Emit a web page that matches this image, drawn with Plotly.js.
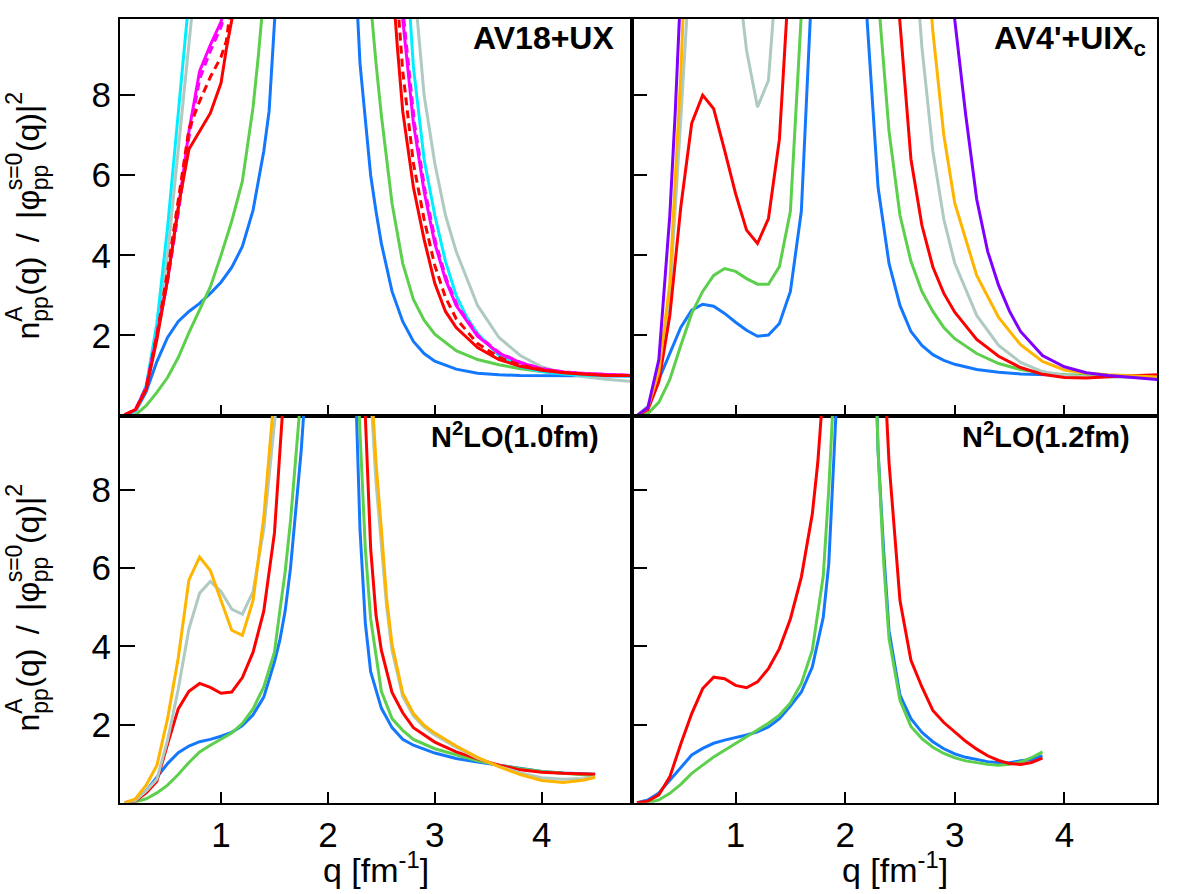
<!DOCTYPE html>
<html><head><meta charset="utf-8">
<script src="https://cdn.plot.ly/plotly-3.0.1.min.js"></script>
<style>html,body{margin:0;padding:0;background:#fff;}</style>
</head><body><div id="chart" style="width:1182px;height:894px;"></div>
<script>
// ---------- colours ----------
const C_BLUE = '#1478ff', C_GREEN = '#5ccf4c', C_RED = '#ff0000', C_MAG = '#ff00ff',
      C_CYAN = '#00eeff', C_GRAY = '#afcac2', C_ORANGE = '#ffb400', C_PURPLE = '#8000ff';

// ---------- panel labels / ticks ----------
const panelLabels = ["<b>AV18+UX</b>", "<b>AV4'+UIX<sub>c</sub></b>", "<b>N<sup>2</sup>LO(1.0fm)</b>", "<b>N<sup>2</sup>LO(1.2fm)</b>"];
const xTicks = [1, 2, 3, 4];
const yTicks = [2, 4, 6, 8];

// ---------- AV18+UX ----------
const av18_blue_qL = [0.1,0.2,0.3,0.4,0.5,0.6,0.7,0.8,0.9,1.0,1.1,1.2,1.3,1.4,1.45,1.5,1.55];
const av18_blue_nL = [0.02,0.1,0.6,1.35,1.95,2.35,2.6,2.8,3.05,3.33,3.7,4.22,5.13,6.6,7.6,9.87,12];
const av18_blue_qR = [2.25,2.3,2.35,2.4,2.45,2.5,2.6,2.7,2.8,2.9,3.0,3.2,3.4,3.6,3.8,4.0,4.2,4.4,4.6,4.85];
const av18_blue_nR = [11.5,8.8,7.4,6.0,5.1,4.3,3.1,2.35,1.85,1.55,1.36,1.16,1.06,1.02,1.0,1.0,1.0,1.0,0.99,0.99];

const av18_green_qL = [0.1,0.2,0.3,0.4,0.5,0.6,0.7,0.8,0.9,1.0,1.1,1.2,1.3,1.35,1.4];
const av18_green_nL = [0.0,0.02,0.25,0.58,0.95,1.45,2.07,2.65,3.21,4.0,4.85,5.85,7.7,9.0,10.5];
const av18_green_qR = [2.38,2.4,2.45,2.5,2.6,2.7,2.8,2.9,3.0,3.2,3.4,3.6,3.8,4.0,4.2,4.4,4.6,4.85];
const av18_green_nR = [11,10.3,8.8,7.5,5.3,3.8,2.9,2.38,2.03,1.62,1.4,1.27,1.17,1.1,1.05,1.02,1.0,1.0];

const av18_red_qL = [0.1,0.2,0.3,0.4,0.5,0.6,0.7,0.8,0.9,1.0,1.05,1.1,1.15];
const av18_red_nL = [0.02,0.15,0.65,1.9,3.4,5.2,6.65,7.1,7.55,8.3,9.15,9.87,11];
const av18_red_qR = [2.58,2.6,2.65,2.7,2.8,2.9,3.0,3.1,3.2,3.4,3.6,3.8,4.0,4.2,4.4,4.6,4.85];
const av18_red_nR = [12,11,9.2,7.6,5.7,4.4,3.3,2.6,2.2,1.7,1.4,1.23,1.13,1.07,1.03,1.0,1.0];

const av18_redD_qL = [0.1,0.2,0.3,0.4,0.5,0.6,0.7,0.8,0.9,1.0,1.05,1.1];
const av18_redD_nL = [0.02,0.15,0.68,2.0,3.6,5.4,7.15,7.85,8.45,8.95,9.35,10.4];
const av18_redD_qR = [2.62,2.65,2.7,2.8,2.9,3.0,3.1,3.2,3.4,3.6,3.8,4.0,4.2,4.4,4.6,4.85];
const av18_redD_nR = [11.5,10.4,8.6,6.3,4.9,3.75,2.95,2.42,1.8,1.46,1.26,1.15,1.08,1.04,1.01,1.0];

const av18_mag_qL = [0.1,0.2,0.3,0.4,0.5,0.6,0.7,0.8,0.9,1.0,1.1];
const av18_mag_nL = [0.02,0.15,0.7,2.0,3.4,5.15,7.1,8.6,9.25,9.83,10.8];
const av18_mag_qR = [2.66,2.7,2.8,2.9,3.0,3.1,3.2,3.4,3.6,3.8,4.0,4.2,4.4,4.6,4.85];
const av18_mag_nR = [11.2,9.9,7.3,5.6,4.3,3.4,2.75,1.98,1.56,1.32,1.17,1.09,1.05,1.02,1.0];

const av18_magD_qL = [0.1,0.2,0.3,0.4,0.5,0.6,0.7,0.8,0.9,1.0,1.1];
const av18_magD_nL = [0.02,0.15,0.7,2.0,3.35,5.05,6.95,8.4,9.1,9.7,10.6];
const av18_magD_qR = [2.67,2.71,2.81,2.91,3.01,3.11,3.21,3.41,3.61,3.81,4.01,4.21,4.41,4.61,4.85];
const av18_magD_nR = [11.2,9.9,7.3,5.6,4.3,3.4,2.75,1.98,1.56,1.32,1.17,1.09,1.05,1.02,1.0];

const av18_cyan_qL = [0.1,0.2,0.3,0.4,0.5,0.6,0.7];
const av18_cyan_nL = [0.02,0.12,0.75,2.3,4.7,7.5,10.4];
const av18_cyan_qR = [2.72,2.75,2.8,2.9,3.0,3.1,3.2,3.3,3.4,3.6,3.8,4.0,4.2,4.4,4.6,4.85];
const av18_cyan_nR = [12,10.8,8.7,6.4,5.0,3.85,3.0,2.45,2.05,1.5,1.22,1.1,1.04,1.01,1.0,0.99];

const av18_gray_qL = [0.1,0.2,0.3,0.4,0.5,0.6,0.7,0.75];
const av18_gray_nL = [0.02,0.1,0.7,2.1,4.0,6.6,9.2,10.6];
const av18_gray_qR = [2.78,2.8,2.9,3.0,3.1,3.2,3.4,3.6,3.8,4.0,4.2,4.4,4.6,4.85];
const av18_gray_nR = [12,11,8.0,6.3,5.0,4.1,2.75,1.95,1.5,1.22,1.06,0.97,0.91,0.85];

// ---------- AV4'+UIXc ----------
const av4_blue_qL = [0.1,0.2,0.3,0.4,0.5,0.6,0.7,0.8,0.9,1.0,1.1,1.2,1.3,1.4,1.5,1.6,1.65,1.7];
const av4_blue_nL = [0.0,0.22,0.9,1.55,2.2,2.63,2.78,2.73,2.55,2.33,2.13,1.98,2.01,2.3,3.1,5.1,8.0,11];
const av4_blue_qR = [2.15,2.2,2.3,2.4,2.5,2.6,2.7,2.8,2.9,3.0,3.2,3.4,3.6,3.8,4.0,4.2,4.4,4.6,4.85];
const av4_blue_nR = [12.5,9.87,5.7,3.8,2.75,2.1,1.75,1.52,1.38,1.28,1.15,1.08,1.04,1.02,1.01,1.0,1.0,0.99,0.98];

const av4_green_qL = [0.1,0.2,0.3,0.4,0.5,0.6,0.7,0.8,0.9,1.0,1.1,1.2,1.3,1.4,1.5,1.6,1.65];
const av4_green_nL = [0.0,0.05,0.33,0.9,1.75,2.55,3.1,3.5,3.67,3.6,3.42,3.28,3.28,3.72,5.1,9.87,12.5];
const av4_green_qR = [2.28,2.3,2.4,2.5,2.6,2.7,2.8,2.9,3.0,3.2,3.4,3.6,3.8,4.0,4.2,4.4,4.6,4.85];
const av4_green_nR = [11.5,10.5,7.1,5.0,3.85,3.1,2.6,2.2,1.92,1.55,1.3,1.15,1.07,1.02,1.0,0.99,0.98,0.97];

const av4_red_qL = [0.1,0.2,0.3,0.4,0.5,0.6,0.7,0.8,0.9,1.0,1.1,1.2,1.3,1.4,1.45,1.5];
const av4_red_nL = [0.0,0.15,0.85,2.5,5.2,7.3,8.0,7.66,6.62,5.54,4.63,4.3,4.92,6.9,9.2,11.5];
const av4_red_qR = [2.45,2.5,2.6,2.7,2.8,2.9,3.0,3.2,3.4,3.6,3.8,4.0,4.2,4.4,4.6,4.85];
const av4_red_nR = [11.5,9.87,6.4,4.75,3.71,3.05,2.58,1.9,1.48,1.2,1.03,0.95,0.94,0.97,1.0,1.02];

const av4_gray_qL = [0.1,0.2,0.3,0.4,0.5,0.6,0.7,0.8,0.9,1.0,1.1,1.2,1.3,1.4];
const av4_gray_nL = [0.0,0.2,1.0,3.0,7.4,12,14,14.5,13.5,11.5,9.12,7.7,8.37,12];
const av4_gray_qR = [2.65,2.7,2.8,2.9,3.0,3.2,3.4,3.6,3.8,4.0,4.2,4.4,4.6,4.85];
const av4_gray_nR = [11,9.2,6.6,4.9,3.8,2.5,1.75,1.33,1.1,1.0,0.97,0.96,0.96,0.95];

const av4_orange_qL = [0.1,0.2,0.3,0.4,0.5,0.55];
const av4_orange_nL = [0.0,0.2,1.1,3.3,8.5,12];
const av4_orange_qR = [2.75,2.8,2.9,3.0,3.2,3.4,3.6,3.8,4.0,4.2,4.4,4.6,4.85];
const av4_orange_nR = [11.2,9.6,7.0,5.3,3.5,2.45,1.77,1.35,1.14,1.06,1.02,0.99,0.96];

const av4_purple_qL = [0.1,0.2,0.3,0.4,0.45,0.5];
const av4_purple_nL = [0.0,0.2,1.4,5.0,7.6,10.7];
const av4_purple_qR = [2.95,3.0,3.1,3.2,3.3,3.4,3.5,3.6,3.8,4.0,4.2,4.4,4.6,4.85];
const av4_purple_nR = [12,9.87,7.5,5.4,4.1,3.25,2.6,2.1,1.5,1.22,1.07,1.0,0.96,0.9];

// ---------- N2LO (1.0 fm) ----------
const n10_blue_qL = [0.1,0.2,0.3,0.4,0.5,0.6,0.7,0.8,0.9,1.0,1.1,1.2,1.3,1.4,1.5,1.55,1.6,1.65,1.7,1.75,1.8];
const n10_blue_nL = [0.0,0.06,0.3,0.65,1.0,1.28,1.45,1.56,1.62,1.7,1.8,1.97,2.25,2.7,3.6,4.15,4.9,6.0,7.4,9.0,11];
const n10_blue_qR = [2.25,2.3,2.35,2.4,2.5,2.6,2.7,2.8,3.0,3.2,3.4,3.6,3.8,4.0,4.2,4.4,4.5];
const n10_blue_nR = [11.5,7.0,4.6,3.35,2.42,1.92,1.62,1.47,1.27,1.13,1.04,0.96,0.87,0.8,0.76,0.74,0.73];

const n10_green_qL = [0.1,0.2,0.3,0.4,0.5,0.6,0.7,0.8,0.9,1.0,1.1,1.2,1.3,1.4,1.5,1.55,1.6,1.65,1.7,1.75];
const n10_green_nL = [0.0,0.02,0.1,0.25,0.45,0.72,1.03,1.3,1.47,1.62,1.78,2.03,2.4,2.96,3.85,4.9,5.9,7.2,8.7,10.5];
const n10_green_qR = [2.28,2.3,2.35,2.4,2.5,2.6,2.7,2.8,3.0,3.2,3.4,3.6,3.8,4.0,4.2,4.4,4.5];
const n10_green_nR = [11,9.5,6.5,4.7,2.85,2.15,1.85,1.62,1.38,1.22,1.07,0.96,0.87,0.8,0.75,0.71,0.69];

const n10_red_qL = [0.1,0.2,0.3,0.4,0.5,0.6,0.7,0.8,0.9,1.0,1.1,1.2,1.3,1.4,1.5,1.55,1.6];
const n10_red_nL = [0.0,0.05,0.25,0.55,1.5,2.4,2.85,3.05,2.95,2.8,2.83,3.2,3.85,4.9,6.9,8.8,11];
const n10_red_qR = [2.33,2.35,2.4,2.45,2.5,2.6,2.7,2.8,3.0,3.2,3.4,3.6,3.8,4.0,4.2,4.4,4.5];
const n10_red_nR = [11,9.9,6.5,4.8,3.9,2.82,2.3,1.92,1.55,1.3,1.12,0.96,0.84,0.78,0.75,0.74,0.73];

const n10_gray_qL = [0.1,0.2,0.3,0.4,0.5,0.6,0.7,0.8,0.9,1.0,1.1,1.2,1.3,1.4,1.5,1.55];
const n10_gray_nL = [0.0,0.06,0.3,0.6,1.6,2.9,4.45,5.36,5.66,5.4,4.95,4.82,5.4,7.0,9.7,11];
const n10_gray_qR = [2.4,2.45,2.5,2.55,2.6,2.7,2.8,2.9,3.0,3.2,3.4,3.6,3.8,4.0,4.2,4.4,4.5];
const n10_gray_nR = [10.5,8.2,6.6,5.0,3.9,2.72,2.22,1.93,1.73,1.42,1.14,0.93,0.76,0.64,0.6,0.62,0.66];

const n10_orange_qL = [0.1,0.2,0.3,0.4,0.5,0.6,0.7,0.8,0.9,1.0,1.1,1.2,1.3,1.4,1.5];
const n10_orange_nL = [0.0,0.1,0.45,0.95,2.15,3.7,5.7,6.28,5.94,5.17,4.41,4.28,5.17,7.3,10.5];
const n10_orange_qR = [2.4,2.45,2.5,2.55,2.6,2.7,2.8,2.9,3.0,3.2,3.4,3.6,3.8,4.0,4.2,4.4,4.5];
const n10_orange_nR = [11,8.7,7.0,5.2,4.05,2.8,2.28,1.98,1.78,1.45,1.16,0.92,0.72,0.57,0.52,0.58,0.65];

// ---------- N2LO (1.2 fm) ----------
const n12_blue_qL = [0.1,0.2,0.3,0.4,0.5,0.6,0.7,0.8,0.9,1.0,1.1,1.2,1.3,1.4,1.5,1.6,1.7,1.8,1.85,1.9,1.95];
const n12_blue_nL = [0.0,0.07,0.25,0.58,0.9,1.22,1.39,1.52,1.6,1.66,1.73,1.81,1.94,2.15,2.47,2.83,3.47,4.74,6.1,9.0,12];
const n12_blue_qR = [2.28,2.3,2.35,2.4,2.5,2.6,2.7,2.8,2.9,3.0,3.1,3.2,3.3,3.4,3.5,3.6,3.7,3.8];
const n12_blue_nR = [11,9.0,6.5,4.4,2.75,2.15,1.8,1.56,1.38,1.25,1.16,1.1,1.05,1.02,1.02,1.07,1.1,1.2];

const n12_green_qL = [0.1,0.2,0.3,0.4,0.5,0.6,0.7,0.8,0.9,1.0,1.1,1.2,1.3,1.4,1.5,1.6,1.7,1.8,1.85,1.9];
const n12_green_nL = [0.0,0.0,0.07,0.24,0.47,0.75,0.96,1.17,1.34,1.51,1.68,1.85,2.03,2.24,2.55,3.05,3.9,5.8,8.0,10.8];
const n12_green_qR = [2.28,2.3,2.35,2.4,2.5,2.6,2.7,2.8,2.9,3.0,3.1,3.2,3.3,3.4,3.5,3.6,3.7,3.8];
const n12_green_nR = [11,9.0,6.2,4.2,2.62,1.95,1.64,1.42,1.26,1.15,1.07,1.02,0.98,0.96,0.98,1.04,1.15,1.3];

const n12_red_qL = [0.1,0.2,0.3,0.4,0.5,0.6,0.7,0.8,0.9,1.0,1.1,1.2,1.3,1.4,1.5,1.6,1.7,1.75,1.8];
const n12_red_nL = [0.0,0.04,0.2,0.66,1.5,2.28,2.92,3.21,3.17,3.0,2.94,3.09,3.43,3.94,4.7,5.77,7.38,8.7,10.6];
const n12_red_qR = [2.35,2.38,2.4,2.5,2.6,2.7,2.8,2.9,3.0,3.1,3.2,3.3,3.4,3.5,3.6,3.7,3.8];
const n12_red_nR = [11.5,9.85,8.7,5.17,3.64,2.96,2.36,2.05,1.8,1.57,1.37,1.2,1.08,1.0,0.98,1.03,1.14];

// ---------- axis titles (text pieces) ----------
const yTitleRuns = [
  {main: 'n'}, {sup: 'A', sub: 'pp'}, {main: '(q)'}, {gap: 0.45}, {main: '/'}, {gap: 0.45},
  {main: '|φ'}, {sup: 's=0', sub: 'pp'}, {main: '(q)|'}, {sup: '2'}
];
const xTitle = 'q [fm<sup>-1</sup>]';

// ---------- build ----------
function curve(qL, nL, qR, nR, color, dash, xa, ya) {
  return {
    x: qL.concat([null], qR), y: nL.concat([null], nR),
    xaxis: xa, yaxis: ya, type: 'scatter', mode: 'lines', connectgaps: false,
    line: {color: color, width: 3, dash: dash || 'solid'}, hoverinfo: 'skip', showlegend: false
  };
}

const traces = [
  curve(av18_blue_qL, av18_blue_nL, av18_blue_qR, av18_blue_nR, C_BLUE, null, 'x', 'y'),
  curve(av18_green_qL, av18_green_nL, av18_green_qR, av18_green_nR, C_GREEN, null, 'x', 'y'),
  curve(av18_gray_qL, av18_gray_nL, av18_gray_qR, av18_gray_nR, C_GRAY, null, 'x', 'y'),
  curve(av18_cyan_qL, av18_cyan_nL, av18_cyan_qR, av18_cyan_nR, C_CYAN, null, 'x', 'y'),
  curve(av18_mag_qL, av18_mag_nL, av18_mag_qR, av18_mag_nR, C_MAG, null, 'x', 'y'),
  curve(av18_magD_qL, av18_magD_nL, av18_magD_qR, av18_magD_nR, C_MAG, '8px,5px', 'x', 'y'),
  curve(av18_red_qL, av18_red_nL, av18_red_qR, av18_red_nR, C_RED, null, 'x', 'y'),
  curve(av18_redD_qL, av18_redD_nL, av18_redD_qR, av18_redD_nR, C_RED, '8px,5px', 'x', 'y'),

  curve(av4_blue_qL, av4_blue_nL, av4_blue_qR, av4_blue_nR, C_BLUE, null, 'x2', 'y2'),
  curve(av4_green_qL, av4_green_nL, av4_green_qR, av4_green_nR, C_GREEN, null, 'x2', 'y2'),
  curve(av4_gray_qL, av4_gray_nL, av4_gray_qR, av4_gray_nR, C_GRAY, null, 'x2', 'y2'),
  curve(av4_red_qL, av4_red_nL, av4_red_qR, av4_red_nR, C_RED, null, 'x2', 'y2'),
  curve(av4_orange_qL, av4_orange_nL, av4_orange_qR, av4_orange_nR, C_ORANGE, null, 'x2', 'y2'),
  curve(av4_purple_qL, av4_purple_nL, av4_purple_qR, av4_purple_nR, C_PURPLE, null, 'x2', 'y2'),

  curve(n10_blue_qL, n10_blue_nL, n10_blue_qR, n10_blue_nR, C_BLUE, null, 'x3', 'y3'),
  curve(n10_green_qL, n10_green_nL, n10_green_qR, n10_green_nR, C_GREEN, null, 'x3', 'y3'),
  curve(n10_red_qL, n10_red_nL, n10_red_qR, n10_red_nR, C_RED, null, 'x3', 'y3'),
  curve(n10_gray_qL, n10_gray_nL, n10_gray_qR, n10_gray_nR, C_GRAY, null, 'x3', 'y3'),
  curve(n10_orange_qL, n10_orange_nL, n10_orange_qR, n10_orange_nR, C_ORANGE, null, 'x3', 'y3'),

  curve(n12_blue_qL, n12_blue_nL, n12_blue_qR, n12_blue_nR, C_BLUE, null, 'x4', 'y4'),
  curve(n12_green_qL, n12_green_nL, n12_green_qR, n12_green_nR, C_GREEN, null, 'x4', 'y4'),
  curve(n12_red_qL, n12_red_nL, n12_red_qR, n12_red_nR, C_RED, null, 'x4', 'y4')
];

const FONT = '"Liberation Sans", Arial, Helvetica, sans-serif';
const W = 1182, H = 894;
const XL = [120/W, 632/W], XR = [632/W, 1157/W];
const YT = [1-415.6/H, 1-19/H], YB = [1-802.7/H, 1-415.6/H];
const XRANGE = [0.055, 4.845], YRANGE = [0, 9.9];
const TICKSIZE = 35;

function xax(dom, anchor, labels) {
  return {domain: dom, anchor: anchor, range: XRANGE, tickmode: 'array', tickvals: xTicks,
    ticktext: xTicks.map(String), showticklabels: labels, ticks: 'inside', ticklen: 11, tickwidth: 2,
    tickcolor: '#000', showline: true, linecolor: '#000', linewidth: 2, mirror: true,
    showgrid: false, zeroline: false, fixedrange: true,
    tickfont: {family: FONT, size: TICKSIZE, color: '#000'}};
}
function yax(dom, anchor, labels) {
  return {domain: dom, anchor: anchor, range: YRANGE, tickmode: 'array', tickvals: yTicks,
    ticktext: yTicks.map(String), showticklabels: labels, ticks: 'inside', ticklen: 15, tickwidth: 2,
    tickcolor: '#000', showline: true, linecolor: '#000', linewidth: 2, mirror: true,
    showgrid: false, zeroline: false, fixedrange: true, ticklabelstandoff: 0,
    tickfont: {family: FONT, size: TICKSIZE, color: '#000'}};
}

// rotated y title assembled from pieces so that super/subscripts stack
const ctx = document.createElement('canvas').getContext('2d');
function textW(t, size) { ctx.font = size + 'px "Liberation Sans"'; return ctx.measureText(t).width; }
const MS = 32, SS = 23;
function yTitleAnns(yc) {
  const X0 = 28, XSUP = 14, XSUB = 40;
  const widths = yTitleRuns.map(r => r.gap ? r.gap * MS : r.main ? textW(r.main, MS)
    : Math.max(r.sup ? textW(r.sup, SS) : 0, r.sub ? textW(r.sub, SS) : 0));
  const L = widths.reduce((a, b) => a + b, 0);
  const out = [];
  let s = 0;
  yTitleRuns.forEach((r, i) => {
    const w = widths[i];
    const cy = yc + L / 2 - s;          // bottom of this run in page px
    const base = {xref: 'paper', yref: 'paper', textangle: -90, showarrow: false,
                  xanchor: 'center', yanchor: 'bottom', borderpad: 0};
    if (r.main) out.push(Object.assign({}, base, {text: r.main, x: X0 / W, y: 1 - cy / H,
                  font: {family: FONT, size: MS, color: '#000'}}));
    if (r.sup) out.push(Object.assign({}, base, {text: r.sup, x: XSUP / W, y: 1 - cy / H,
                  font: {family: FONT, size: SS, color: '#000'}}));
    if (r.sub) out.push(Object.assign({}, base, {text: r.sub, x: XSUB / W, y: 1 - cy / H,
                  font: {family: FONT, size: SS, color: '#000'}}));
    s += w;
  });
  return out;
}

const annotations = [].concat(yTitleAnns(217), yTitleAnns(609), [
  {text: xTitle, xref: 'paper', yref: 'paper', x: 376/W, y: 1-867/H, showarrow: false,
   xanchor: 'center', yanchor: 'middle', font: {family: FONT, size: 34, color: '#000'}},
  {text: xTitle, xref: 'paper', yref: 'paper', x: 895/W, y: 1-867/H, showarrow: false,
   xanchor: 'center', yanchor: 'middle', font: {family: FONT, size: 34, color: '#000'}},
  {text: panelLabels[0], xref: 'paper', yref: 'paper', x: 616/W, y: 1-38/H, showarrow: false,
   xanchor: 'right', yanchor: 'middle', font: {family: FONT, size: 32, color: '#000'}},
  {text: panelLabels[1], xref: 'paper', yref: 'paper', x: 1148/W, y: 1-40/H, showarrow: false,
   xanchor: 'right', yanchor: 'middle', font: {family: FONT, size: 32, color: '#000'}},
  {text: panelLabels[2], xref: 'paper', yref: 'paper', x: 601/W, y: 1-435/H, showarrow: false,
   xanchor: 'right', yanchor: 'middle', font: {family: FONT, size: 29, color: '#000'}},
  {text: panelLabels[3], xref: 'paper', yref: 'paper', x: 1132/W, y: 1-435/H, showarrow: false,
   xanchor: 'right', yanchor: 'middle', font: {family: FONT, size: 29, color: '#000'}}
]);

const layout = {
  width: W, height: H, margin: {l: 0, r: 0, t: 0, b: 0},
  paper_bgcolor: '#fff', plot_bgcolor: '#fff', showlegend: false,
  font: {family: FONT, color: '#000'},
  xaxis: xax(XL, 'y', false), yaxis: yax(YT, 'x', true),
  xaxis2: xax(XR, 'y2', false), yaxis2: yax(YT, 'x2', false),
  xaxis3: xax(XL, 'y3', true), yaxis3: yax(YB, 'x3', true),
  xaxis4: xax(XR, 'y4', true), yaxis4: yax(YB, 'x4', false),
  annotations: annotations
};

Plotly.newPlot('chart', traces, layout, {staticPlot: true, displayModeBar: false});
</script></body></html>
